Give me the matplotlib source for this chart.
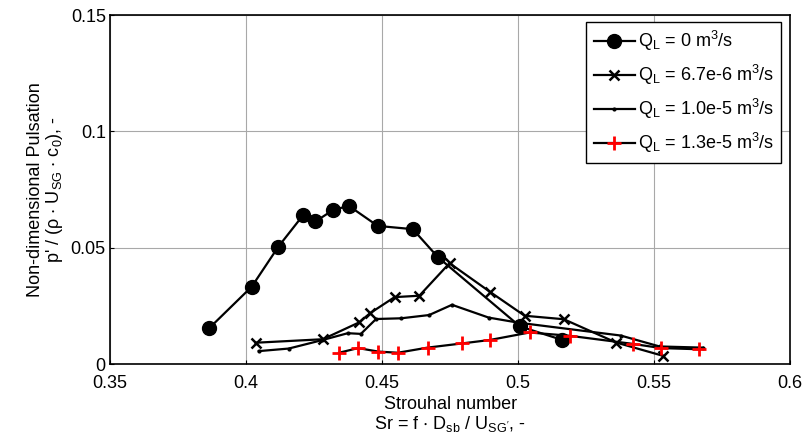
import matplotlib
matplotlib.use("Agg")
import matplotlib.pyplot as plt
from matplotlib.ticker import FormatStrFormatter

plt.rcParams["font.family"] = ["Liberation Sans", "DejaVu Sans"]
plt.rcParams["mathtext.default"] = "regular"

# Q_L = 0 m3/s
sr_q0 = [0.3865, 0.4021, 0.4119, 0.4211, 0.4255, 0.4321, 0.4378, 0.4484, 0.4613, 0.4705, 0.5007, 0.5162]
p_q0 = [0.0155, 0.0333, 0.0505, 0.0642, 0.0613, 0.0663, 0.0680, 0.0594, 0.0580, 0.0460, 0.0162, 0.0104]

# Q_L = 6.7e-6 m3/s
sr_q1 = [0.4035, 0.4282, 0.4415, 0.4456, 0.4546, 0.4637, 0.4748, 0.4895, 0.5024, 0.5168, 0.5360, 0.5532]
p_q1 = [0.0092, 0.0107, 0.0179, 0.0219, 0.0288, 0.0294, 0.0434, 0.0312, 0.0208, 0.0193, 0.0093, 0.0036]

# Q_L = 1.0e-5 m3/s
sr_q2 = [0.4047, 0.4157, 0.4279, 0.4374, 0.4422, 0.4478, 0.4570, 0.4673, 0.4757, 0.4892, 0.5002, 0.5377, 0.5520, 0.5679]
p_q2 = [0.0056, 0.0067, 0.0103, 0.0133, 0.0130, 0.0194, 0.0197, 0.0211, 0.0255, 0.0200, 0.0178, 0.0123, 0.0076, 0.0071]

# Q_L = 1.3e-5 m3/s
sr_q3 = [0.4342, 0.4412, 0.4486, 0.4558, 0.4667, 0.4794, 0.4897, 0.5042, 0.5189, 0.5422, 0.5526, 0.5664]
p_q3 = [0.0049, 0.0069, 0.0054, 0.0049, 0.0071, 0.0089, 0.0104, 0.0136, 0.0122, 0.0087, 0.0069, 0.0064]

labels = [
    r"Q$_{L}$ = 0 m$^{3}$/s",
    r"Q$_{L}$ = 6.7e-6 m$^{3}$/s",
    r"Q$_{L}$ = 1.0e-5 m$^{3}$/s",
    r"Q$_{L}$ = 1.3e-5 m$^{3}$/s",
]

fig = plt.figure(figsize=(8.03, 4.43), dpi=100)
ax = fig.add_axes([0.137, 0.178, 0.847, 0.788])

ax.plot(sr_q0, p_q0, color="black", lw=1.6, marker="o", ms=10, label=labels[0], zorder=3)
ax.plot(sr_q1, p_q1, color="black", lw=1.6, marker="x", ms=7, mew=1.8, label=labels[1], zorder=3)
ax.plot(sr_q2, p_q2, color="black", lw=1.6, marker=".", ms=4, label=labels[2], zorder=3)
ax.plot(sr_q3, p_q3, color="black", lw=1.6, marker="+", ms=10, mew=2, mec="red", label=labels[3], zorder=3)

ax.set_xlim(0.35, 0.6)
ax.set_ylim(0, 0.15)
ax.set_xticks([0.35, 0.4, 0.45, 0.5, 0.55, 0.6])
ax.set_yticks([0, 0.05, 0.1, 0.15])
ax.xaxis.set_major_formatter(FormatStrFormatter("%g"))
ax.yaxis.set_major_formatter(FormatStrFormatter("%g"))
ax.tick_params(direction="in", length=3, labelsize=13, width=0.8)
ax.tick_params(axis="x", pad=8)
ax.tick_params(axis="y", pad=3)
ax.grid(True, color="#a8a8a8", lw=0.8)
ax.set_axisbelow(True)
for s in ax.spines.values():
    s.set_linewidth(1.2)

ax.set_xlabel("Strouhal number\n" + r"Sr = f $\cdot$ D$_{sb}$ / U$_{SG'}$, -", fontsize=13, labelpad=3, linespacing=1.05)
ax.set_ylabel("Non-dimensional Pulsation\n" + r"p' / ($\rho$ $\cdot$ U$_{SG}$ $\cdot$ c$_{0}$), -", fontsize=13, labelpad=4, linespacing=1.0)

leg = ax.legend(loc="upper right", bbox_to_anchor=(0.987, 0.98), borderaxespad=0, fontsize=13, fancybox=False,
                edgecolor="black", framealpha=1, handlelength=2.3, borderpad=0.4, labelspacing=0.55,
                handletextpad=0.15)
leg.get_frame().set_linewidth(1.0)

fig.savefig("out.png", dpi=100)
